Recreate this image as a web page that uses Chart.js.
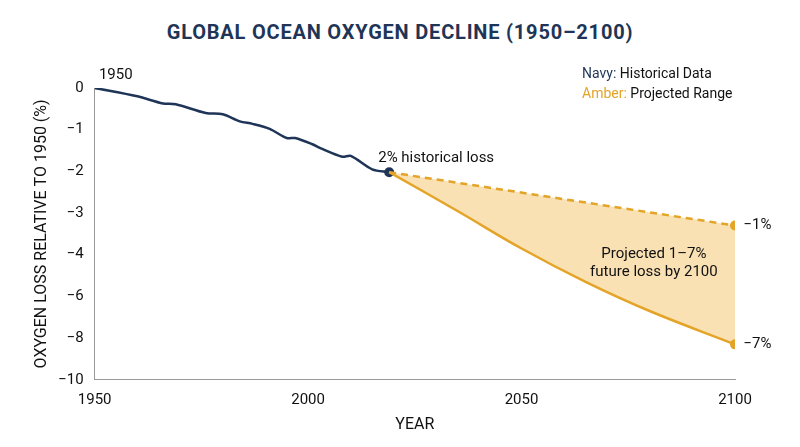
<!DOCTYPE html>
<html>
<head>
<meta charset="utf-8">
<script src="https://cdn.jsdelivr.net/npm/chart.js@4"></script>
<style>
    body { margin: 0; background: #fff; font-family: Roboto, sans-serif; }
    #wrap { position: relative; width: 800px; height: 447px; }
    h1 { position: absolute; top: 20px; left: 0; width: 800px; margin: 0; text-align: center; font: 700 20px Roboto, sans-serif; color: #1f3557; letter-spacing: 0.8px; }
    canvas { position: absolute; left: 0; top: 0; }
</style>
</head>
<body>
<div id="wrap">
    <h1>GLOBAL OCEAN OXYGEN DECLINE (1950–2100)</h1>
    <canvas id="chart" width="800" height="447"></canvas>
</div>
<script>
// Y axis is drawn on an even index scale; the printed labels are uneven
const yTickLabels = ['0', '−1', '−2', '−3', '−4', '−6', '−8', '−10'];

const histYears = [1950, 1960, 1966, 1969, 1976, 1980, 1984, 1987, 1991, 1995, 1997, 2001, 2003, 2008, 2010, 2015, 2019];
const histValues = [0, -0.2, -0.37, -0.39, -0.6, -0.63, -0.8, -0.86, -0.98, -1.2, -1.2, -1.35, -1.45, -1.65, -1.63, -1.95, -2.02];

const upperYears = [2019, 2100];
const upperValues = [-2.02, -3.3];

const lowerYears = [2019, 2035, 2050, 2065, 2080, 2100];
const lowerValues = [-2.02, -2.95, -3.85, -4.65, -5.35, -6.15];

const NAVY = '#1f3557';
const AMBER = '#e3a427';
const FONT = 'Roboto, sans-serif';

const pts = (xs, ys) => xs.map((x, i) => ({ x, y: ys[i] }));

const labels = {
    id: 'labels',
    afterDraw(chart) {
        const { ctx, scales: { x, y } } = chart;
        ctx.save();
        ctx.font = '15px ' + FONT;
        ctx.fillStyle = '#111';
        ctx.textBaseline = 'middle';
        ctx.textAlign = 'left';
        ctx.fillText('1950', x.getPixelForValue(1951), y.getPixelForValue(0.3));
        ctx.textAlign = 'center';
        ctx.fillText('2% historical loss', x.getPixelForValue(2030), y.getPixelForValue(-1.68));
        ctx.fillText('Projected 1–7%', x.getPixelForValue(2081), y.getPixelForValue(-3.98));
        ctx.fillText('future loss by 2100', x.getPixelForValue(2081), y.getPixelForValue(-4.42));
        ctx.textAlign = 'left';
        ctx.fillText('−1%', x.getPixelForValue(2102), y.getPixelForValue(-3.3));
        ctx.fillText('−7%', x.getPixelForValue(2102), y.getPixelForValue(-6.15));
        // legend
        ctx.font = '14px ' + FONT;
        ctx.fillStyle = NAVY;
        ctx.fillText('Navy:', 582, 74);
        ctx.fillStyle = '#111';
        ctx.fillText(' Historical Data', 582 + ctx.measureText('Navy:').width, 74);
        ctx.fillStyle = AMBER;
        ctx.fillText('Amber:', 582, 94);
        ctx.fillStyle = '#111';
        ctx.fillText(' Projected Range', 582 + ctx.measureText('Amber:').width, 94);
        ctx.restore();
    }
};

new Chart(document.getElementById('chart'), {
    type: 'line',
    data: {
        datasets: [
            {
                data: pts(upperYears, upperValues),
                borderColor: AMBER, borderWidth: 2.5, borderDash: [7, 5],
                pointRadius: [0, 5], pointBackgroundColor: AMBER, pointBorderWidth: 0,
                fill: false
            },
            {
                data: pts(lowerYears, lowerValues),
                borderColor: AMBER, borderWidth: 2.5, tension: 0.4,
                pointRadius: [0, 0, 0, 0, 0, 5], pointBackgroundColor: AMBER, pointBorderWidth: 0,
                fill: { target: 0 }, backgroundColor: 'rgba(245, 205, 130, 0.6)'
            },
            {
                data: pts(histYears, histValues),
                borderColor: NAVY, borderWidth: 2.5, tension: 0.3,
                pointRadius: histYears.map((_, i) => i === histYears.length - 1 ? 5 : 0),
                pointBackgroundColor: NAVY, pointBorderWidth: 0, fill: false
            }
        ]
    },
    options: {
        responsive: false,
        animation: false,
        layout: { padding: { top: 88, right: 65, left: 28, bottom: 8 } },
        plugins: { legend: { display: false }, tooltip: { enabled: false } },
        scales: {
            x: {
                type: 'linear', min: 1950, max: 2100,
                ticks: { stepSize: 50, color: '#111', font: { size: 15, family: FONT }, callback: v => String(v) },
                grid: { display: false, drawTicks: true },
                border: { color: '#999' },
                title: { display: true, text: 'YEAR', color: '#111', font: { size: 16, family: FONT } }
            },
            y: {
                min: -7, max: 0,
                afterBuildTicks: axis => { axis.ticks = yTickLabels.map((_, i) => ({ value: -i })); },
                ticks: { callback: (v) => yTickLabels[-v], color: '#111', font: { size: 15, family: FONT } },
                grid: { display: false, drawTicks: true },
                border: { color: '#999' },
                title: { display: true, text: 'OXYGEN LOSS RELATIVE TO 1950 (%)', color: '#111', font: { size: 16, family: FONT } }
            }
        }
    },
    plugins: [labels]
});
</script>
</body>
</html>
